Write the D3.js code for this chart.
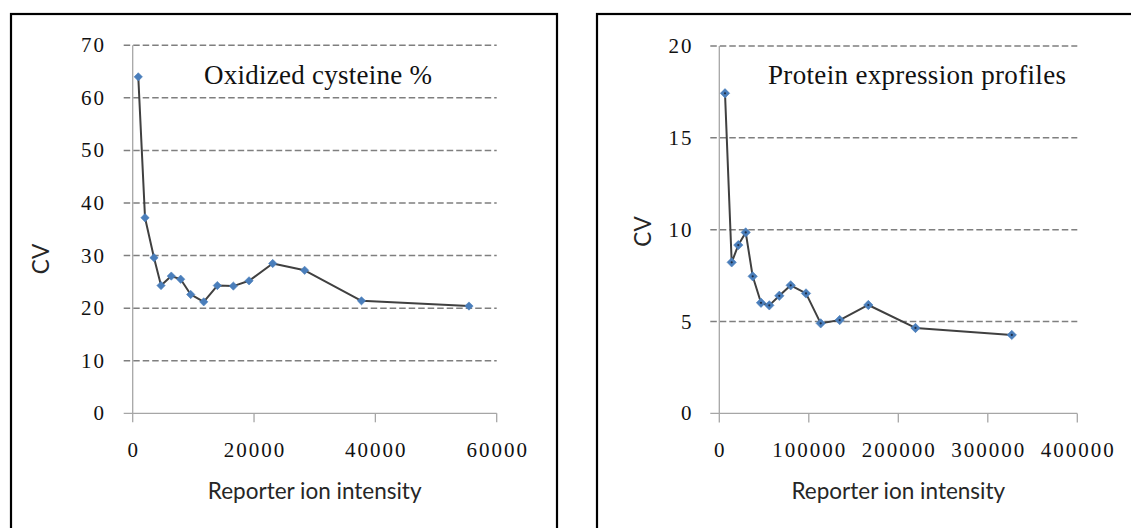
<!DOCTYPE html>
<html>
<head>
<meta charset="utf-8">
<script src="https://cdn.jsdelivr.net/npm/d3@7"></script>
<style>
  html, body { margin: 0; padding: 0; background: #fff; }
  svg { display: block; }
</style>
</head>
<body>
<svg id="chart" width="1131" height="528"></svg>
<script>
// ---- data ----
const oxIntensity = [920, 2030, 3510, 4670, 6360, 7910, 9560, 11710, 13950, 16590, 19180, 23080, 28340, 37710, 55430];
const oxCV        = [64.0, 37.2, 29.6, 24.3, 26.1, 25.5, 22.6, 21.2, 24.3, 24.2, 25.2, 28.5, 27.2, 21.4, 20.4];
const protIntensity = [6370, 13850, 21230, 29500, 37320, 46590, 55870, 67040, 79780, 96870, 113300, 134500, 166500, 219200, 326800];
const protCV        = [17.42, 8.22, 9.16, 9.85, 7.46, 6.02, 5.88, 6.40, 6.97, 6.53, 4.90, 5.08, 5.90, 4.65, 4.27];
const oxXTicks = [0, 20000, 40000, 60000];
const oxYTicks = [0, 10, 20, 30, 40, 50, 60, 70];
const protXTicks = [0, 100000, 200000, 300000, 400000];
const protYTicks = [0, 5, 10, 15, 20];
const titles = ["Oxidized cysteine %", "Protein expression profiles"];
const xTitle = "Reporter ion intensity";
const yTitle = "CV";

const svg = d3.select("#chart");
const serif = "'Liberation Serif', 'Times New Roman', serif";
const sans = "Lato, 'Open Sans', sans-serif";

function panel(cfg) {
  const g = svg.append("g");
  // frame
  g.append("rect")
    .attr("x", cfg.frameX).attr("y", 14)
    .attr("width", cfg.frameW).attr("height", 600)
    .attr("fill", "none").attr("stroke", "#000").attr("stroke-width", 2.2);

  const x = d3.scaleLinear().domain(cfg.xDomain).range([cfg.x0, cfg.x1]);
  const y = d3.scaleLinear().domain(cfg.yDomain).range([cfg.y1, cfg.y0]);

  // gridlines (dashed) for non-zero ticks
  g.append("g").selectAll("line").data(cfg.yTicks.filter(d => d !== 0)).join("line")
    .attr("x1", cfg.x0 - 9).attr("x2", cfg.x1)
    .attr("y1", d => y(d)).attr("y2", d => y(d))
    .attr("stroke", "#7f7f7f").attr("stroke-width", 1.5)
    .attr("stroke-dasharray", "6.5,3");

  // y axis line
  g.append("line")
    .attr("x1", cfg.x0).attr("x2", cfg.x0)
    .attr("y1", y(cfg.yDomain[1])).attr("y2", cfg.y1 + 9)
    .attr("stroke", "#a6a6a6").attr("stroke-width", 1.3);
  // x axis line
  g.append("line")
    .attr("x1", cfg.x0 - 9).attr("x2", cfg.x1)
    .attr("y1", cfg.y1).attr("y2", cfg.y1)
    .attr("stroke", "#a6a6a6").attr("stroke-width", 1.3);
  // x ticks
  g.append("g").selectAll("line").data(cfg.xTicks.filter(d => d !== 0)).join("line")
    .attr("x1", d => x(d)).attr("x2", d => x(d))
    .attr("y1", cfg.y1).attr("y2", cfg.y1 + 9)
    .attr("stroke", "#a6a6a6").attr("stroke-width", 1.3);

  // y tick labels
  g.append("g").selectAll("text").data(cfg.yTicks).join("text")
    .attr("x", cfg.yLabelRight).attr("y", d => y(d) + 7)
    .attr("text-anchor", "end")
    .attr("font-family", serif).attr("font-size", 21)
    .attr("letter-spacing", 2)
    .attr("fill", "#111")
    .text(d => d);
  // x tick labels
  g.append("g").selectAll("text").data(cfg.xTicks).join("text")
    .attr("x", d => x(d) + 1).attr("y", 457)
    .attr("text-anchor", "middle")
    .attr("font-family", serif).attr("font-size", 21)
    .attr("letter-spacing", 2)
    .attr("fill", "#111")
    .text(d => d);

  // axis titles
  g.append("text")
    .attr("x", (cfg.x0 + cfg.x1) / 2).attr("y", 499)
    .attr("text-anchor", "middle")
    .attr("font-family", sans).attr("font-size", 22.5)
    .attr("fill", "#262626")
    .text(xTitle);
  g.append("text")
    .attr("transform", `translate(${cfg.cvX},${cfg.cvY}) rotate(-90)`)
    .attr("text-anchor", "middle").attr("dy", "0.35em")
    .attr("font-family", sans).attr("font-size", 22.5)
    .attr("fill", "#262626")
    .text(yTitle);

  // title
  g.append("text")
    .attr("x", cfg.titleX).attr("y", 84)
    .attr("font-family", serif).attr("font-size", 27)
    .attr("textLength", cfg.titleW).attr("lengthAdjust", "spacing")
    .attr("fill", "#111")
    .text(cfg.title);

  // data
  const pts = cfg.xs.map((v, i) => [v, cfg.ys[i]]);
  g.append("path")
    .datum(pts)
    .attr("d", d3.line().x(d => x(d[0])).y(d => y(d[1])))
    .attr("fill", "none").attr("stroke", "#404040").attr("stroke-width", 2)
    .attr("stroke-linejoin", "round");
  g.append("g").selectAll("path").data(pts).join("path")
    .attr("transform", d => `translate(${x(d[0])},${y(d[1])})`)
    .attr("d", d3.symbol().type(d3.symbolDiamond2).size(cfg.markerSize))
    .attr("fill", "#4a7ebb").attr("stroke", "#4a7ebb").attr("stroke-width", 0.6);
  if (cfg.centerDot) {
    g.append("g").selectAll("circle").data(pts).join("circle")
      .attr("cx", d => x(d[0])).attr("cy", d => y(d[1])).attr("r", 1.1)
      .attr("fill", "#1f2d44");
  }
}

panel({
  frameX: 11, frameW: 546,
  x0: 132.7, x1: 496.7, y0: 45.3, y1: 413.3,
  xDomain: [0, 60000], yDomain: [0, 70],
  xTicks: oxXTicks, yTicks: oxYTicks,
  yLabelRight: 106, cvX: 41, cvY: 259,
  title: titles[0], titleX: 204, titleW: 228,
  xs: oxIntensity, ys: oxCV, markerSize: 44, centerDot: false
});
panel({
  frameX: 597, frameW: 600,
  x0: 719.3, x1: 1077.3, y0: 45.9, y1: 413.4,
  xDomain: [0, 400000], yDomain: [0, 20],
  xTicks: protXTicks, yTicks: protYTicks,
  yLabelRight: 693.5, cvX: 643.5, cvY: 231.5,
  title: titles[1], titleX: 768, titleW: 298,
  xs: protIntensity, ys: protCV, markerSize: 56, centerDot: true
});
</script>
</body>
</html>
